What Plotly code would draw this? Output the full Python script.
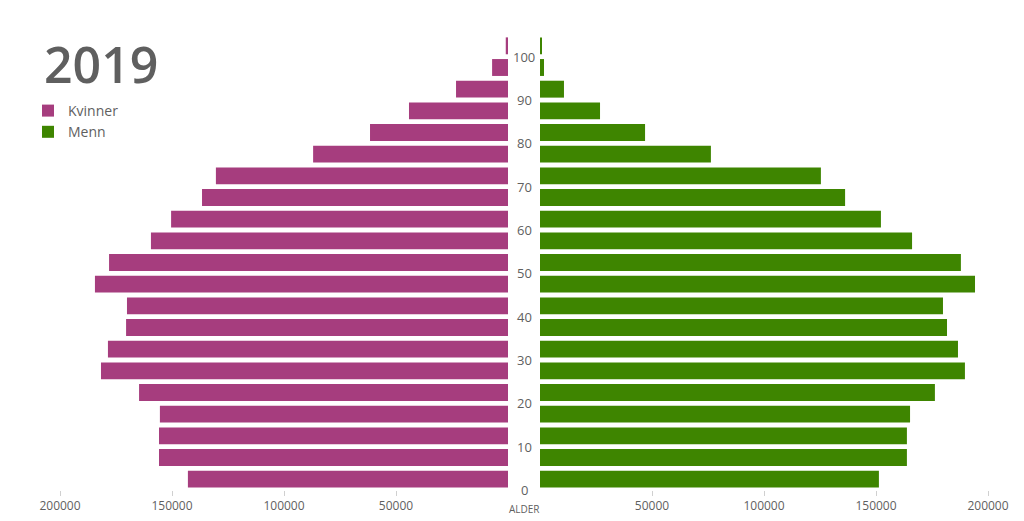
import plotly.graph_objects as go

age_groups = [0, 5, 10, 15, 20, 25, 30, 35, 40, 45, 50, 55, 60, 65, 70, 75, 80, 85, 90, 95, 100]
kvinner = [142900, 155800, 155800, 155400, 164700, 181700, 178600, 170500, 170100, 184400,
           178100, 159400, 150400, 136600, 130400, 87000, 61600, 44200, 23200, 7100, 1000]
menn = [151300, 163800, 163800, 165200, 176300, 189700, 186600, 181700, 179900, 194200,
        187900, 166100, 152200, 136200, 125400, 76300, 46900, 26800, 10700, 1800, 500]
age_ticks = [0, 10, 20, 30, 40, 50, 60, 70, 80, 90, 100]
x_ticks = [50000, 100000, 150000, 200000]
x_tick_labels = ["50000", "100000", "150000", "200000"]
title_text = "2019"

pink = "#a63d7e"
green = "#3e8500"
grey = "#5f5f5f"
font = "Open Sans"

ymid = [a + 2.5 for a in age_groups]

fig = go.Figure()
fig.add_trace(go.Bar(x=kvinner, y=ymid, orientation="h", width=3.9, name="Kvinner",
                     marker=dict(color=pink, line=dict(width=0)), xaxis="x", yaxis="y"))
fig.add_trace(go.Bar(x=menn, y=ymid, orientation="h", width=3.9, name="Menn",
                     marker=dict(color=green, line=dict(width=0)), xaxis="x2", yaxis="y2"))

W, H = 1024, 521
ydom = [1 - 490 / H, 1 - 35 / H]
axis_common = dict(showgrid=False, zeroline=False, showline=False, ticks="outside",
                   ticklen=5, tickcolor="#d0d0d0", tickwidth=1, automargin=False,
                   tickfont=dict(family=font, size=12, color=grey),
                   tickvals=x_ticks, ticktext=x_tick_labels, fixedrange=True)
fig.update_layout(
    width=W, height=H,
    margin=dict(l=0, r=0, t=0, b=0, autoexpand=False),
    paper_bgcolor="white", plot_bgcolor="white",
    font=dict(family=font, color=grey),
    barmode="overlay",
    xaxis=dict(domain=[60 / W, 508 / W], range=[200000, 0], anchor="y", **axis_common),
    xaxis2=dict(domain=[540 / W, 988 / W], range=[0, 200000], anchor="y2", **axis_common),
    yaxis=dict(domain=ydom, range=[0, 105], visible=False, anchor="x", automargin=False),
    yaxis2=dict(domain=ydom, range=[0, 105], visible=False, anchor="x2", automargin=False),
    legend=dict(x=28 / W, y=1 - 95 / H, xanchor="left", yanchor="top",
                font=dict(family=font, size=14, color=grey), bgcolor="rgba(0,0,0,0)",
                itemwidth=30, tracegroupgap=0),
    showlegend=True,
)

for a in age_ticks:
    fig.add_annotation(x=524 / W, xref="paper", y=a, yref="y", text=str(a),
                       showarrow=False, xanchor="center", yanchor="middle",
                       font=dict(family=font, size=13, color=grey))

fig.add_annotation(x=524 / W, xref="paper", y=1 - 509 / H, yref="paper", text="ALDER",
                   showarrow=False, xanchor="center", yanchor="middle",
                   font=dict(family=font, size=10, color=grey))
fig.add_annotation(x=42 / W, xref="paper", y=1 - 64 / H, yref="paper", text=title_text,
                   showarrow=False, xanchor="left", yanchor="middle",
                   font=dict(family=font, size=50, color=grey, weight=600))

fig.write_html("out.html", config={"displayModeBar": False},
               post_script="document.body.style.margin='0';document.body.style.overflow='hidden';")
